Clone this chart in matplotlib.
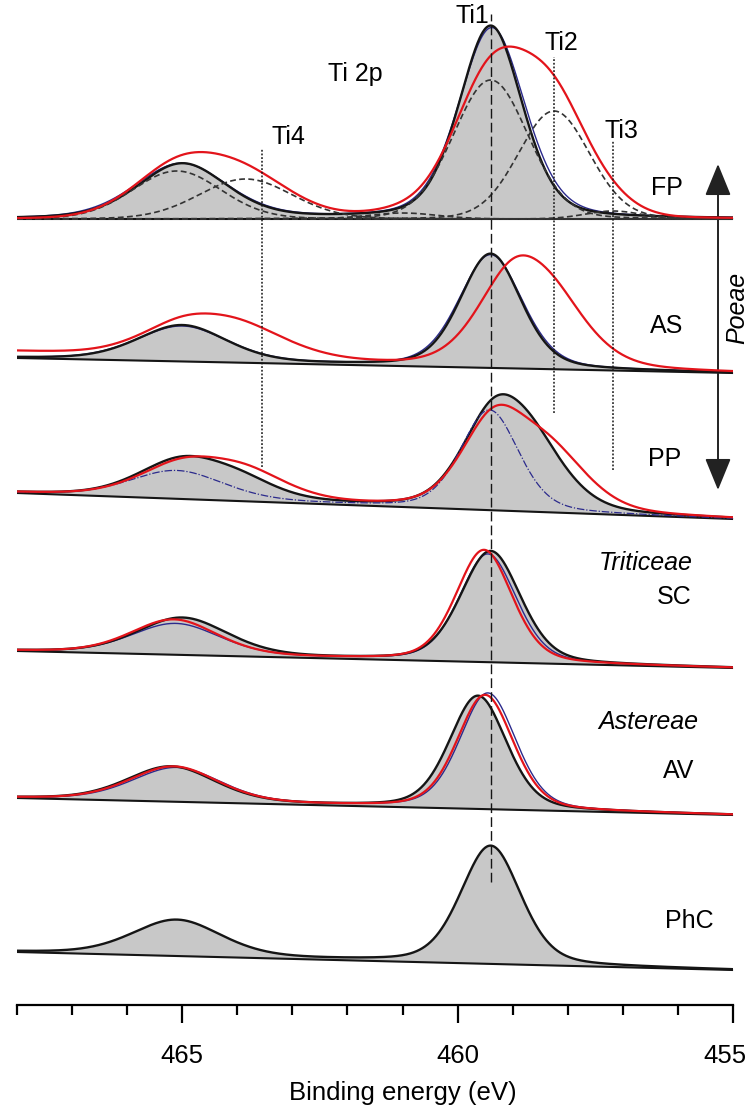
import numpy as np
import matplotlib
matplotlib.use("Agg")
import matplotlib.pyplot as plt
from matplotlib.transforms import ScaledTranslation

plt.rcParams["font.family"] = ["Liberation Sans", "DejaVu Sans"]

# ---------------- data ----------------
samples = ["FP", "AS", "PP", "SC", "AV", "PhC"]

# linear background drop across the scan (468 -> 455 eV), intensity units
background_drop = {"FP": 0, "AS": 15, "PP": 26, "SC": 17, "AV": 17, "PhC": 18}

# peak components: (binding energy eV, height, FWHM eV)
FP_black = [(459.40, 193, 1.35), (465.00, 55, 1.90)]
FP_blue = [(459.38, 191, 1.42), (465.02, 55, 1.98)]
FP_fit = [(459.40, 139, 1.60), (458.25, 108, 1.53), (457.18, 8, 1.20),
          (461.00, 6, 1.50), (465.10, 48, 1.90), (463.85, 40, 2.00)]

AS_black = [(459.40, 114, 1.30), (465.00, 36, 1.90)]
AS_blue = [(459.40, 113, 1.36), (465.00, 35, 1.95)]
AS_red = [(459.00, 85, 1.55), (458.20, 48, 1.60), (465.00, 28, 1.90), (463.90, 28, 2.10)]

PP_black = [(459.35, 86, 1.40), (458.60, 52, 1.50), (465.00, 38, 1.90), (463.90, 14, 1.60)]
PP_blue = [(459.42, 100, 1.24), (465.10, 28, 2.00)]
PP_red = [(459.35, 85, 1.40), (458.30, 55, 1.60), (465.00, 33, 1.90), (463.80, 24, 1.80)]

SC_black = [(459.40, 111, 1.28), (465.00, 37, 1.95)]
SC_blue = [(459.45, 108, 1.22), (465.12, 31, 1.90)]
SC_red = [(459.52, 112, 1.20), (465.15, 35, 1.85)]

AV_black = [(459.63, 113, 1.22), (465.20, 35, 1.90)]
AV_blue = [(459.45, 116, 1.20), (465.10, 34, 1.90)]
AV_red = [(459.50, 114, 1.20), (465.15, 35, 1.90)]

PhC_black = [(459.40, 118, 1.28), (465.10, 36, 1.90)]

# extra lift of the red trace at the high-BE end
red_left_lift = {"AS": 6}

# reference binding energies of the Ti species
species = ["Ti1", "Ti2", "Ti3", "Ti4"]
species_be = [459.40, 458.25, 457.18, 463.55]

xticks_major = [465, 460, 455]
xticks_minor = list(range(455, 469))

# ---------------- layout ----------------
W, H = 752, 1112
AX_BOTTOM_PX = 1005  # pixel row of the energy axis
stack_offset = {"FP": 786, "AS": 647, "PP": 512, "SC": 354, "AV": 207, "PhC": 53}

fig = plt.figure(figsize=(W / 100, H / 100), dpi=100)
ax = fig.add_axes([17 / W, (H - AX_BOTTOM_PX) / H, 716 / W, AX_BOTTOM_PX / H])
ax.set_xlim(468, 455)
ax.set_ylim(0, AX_BOTTOM_PX)


def py(pix_row):
    """data y for a pixel row"""
    return AX_BOTTOM_PX - pix_row


def figpos(x, y):
    return (x / W, 1 - y / H)


E = np.linspace(468, 455, 1301)


def pseudo_voigt(c, h, w, eta=0.3):
    s = w / 2.3548
    g = np.exp(-(E - c) ** 2 / (2 * s * s))
    lor = 1.0 / (1.0 + ((E - c) / (w / 2)) ** 2)
    return h * ((1 - eta) * g + eta * lor)


def envelope(comps, eta=0.3):
    out = np.zeros_like(E)
    for c, h, w in comps:
        out += pseudo_voigt(c, h, w, eta)
    return out


def baseline(name):
    frac = (468 - E) / 13.0
    return stack_offset[name] - background_drop[name] * frac


GREY = "#c8c8c8"
RED = "#e3141b"
BLUE = "#2b2a8c"
BLACK = "#151515"

curves = {
    "FP": (FP_black, FP_blue, FP_fit, None),
    "AS": (AS_black, AS_blue, AS_red, None),
    "PP": (PP_black, None, PP_red, PP_blue),
    "SC": (SC_black, SC_blue, SC_red, None),
    "AV": (AV_black, AV_blue, AV_red, None),
    "PhC": (PhC_black, None, None, None),
}

for name in samples:
    black, blue, red, blue_dd = curves[name]
    base = baseline(name)
    yb = base + envelope(black)
    ax.fill_between(E, base, yb, color=GREY, lw=0, zorder=1)
    ax.plot(E, base, color=BLACK, lw=1.5, zorder=2)
    if blue is not None:
        ax.plot(E, base + envelope(blue), color=BLUE, lw=1.0, zorder=3)
    ax.plot(E, yb, color=BLACK, lw=1.7, zorder=4)
    if blue_dd is not None:
        ax.plot(E, base + envelope(blue_dd), color=BLUE, lw=0.9,
                ls=(0, (6, 1.5, 1, 1.5)), zorder=5)
    if red is not None:
        eta = 0.1 if name == "FP" else 0.3
        lift = red_left_lift.get(name, 0) * np.clip((E - 461) / 7.0, 0, 1)
        ax.plot(E, base + lift + envelope(red, eta), color=RED, lw=1.6, zorder=6)
    if name == "FP":
        for comp in FP_fit:
            ax.plot(E, base + envelope([comp], 0.1), color="#333333", lw=1.2,
                    ls=(0, (3.5, 2)), zorder=5)

# reference lines of the Ti species
ax.plot([species_be[0]] * 2, [py(882), py(14)], color=BLACK, lw=1.0,
        ls=(0, (7, 3)), zorder=7)
line_extent = {"Ti2": (57, 413), "Ti3": (140, 470), "Ti4": (148, 467)}
for sp, be in zip(species[1:], species_be[1:]):
    top, bot = line_extent[sp]
    ax.plot([be, be], [py(bot), py(top)], color=BLACK, lw=1.1,
            ls=(0, (1.2, 1.2)), zorder=7)

# axis styling
for side in ["left", "right", "top"]:
    ax.spines[side].set_visible(False)
ax.spines["bottom"].set_linewidth(1.6)
ax.set_yticks([])
ax.set_xticks(xticks_major)
ax.set_xticks(xticks_minor, minor=True)
ax.tick_params(axis="x", which="major", length=13, width=1.6, labelsize=18.5, pad=15)
ax.tick_params(axis="x", which="minor", length=7, width=1.6)
ax.patch.set_alpha(0)

# keep the right-most tick label inside the canvas
fig.canvas.draw()
last_label = ax.get_xticklabels()[-1]
last_label.set_transform(last_label.get_transform()
                         + ScaledTranslation(-8 / 100, 0, fig.dpi_scale_trans))

fs = 18
fig.text(*figpos(403, 1093), "Binding energy (eV)", fontsize=18.5, ha="center", va="center")

# annotations
fig.text(*figpos(355, 74), "Ti 2p", fontsize=fs, ha="center", va="center")
label_pos = {"Ti1": (472, 16), "Ti2": (561, 43), "Ti3": (621, 131), "Ti4": (288, 137)}
for sp in species:
    fig.text(*figpos(*label_pos[sp]), sp, fontsize=fs, ha="center", va="center")

sample_label_pos = {"FP": (667, 188), "AS": (667, 326), "PP": (665, 459),
                    "SC": (674, 597), "AV": (679, 771), "PhC": (689, 921)}
for name in samples:
    fig.text(*figpos(*sample_label_pos[name]), name, fontsize=fs, ha="center", va="center")

fig.text(*figpos(646, 563), "Triticeae", fontsize=fs, style="italic", ha="center", va="center")
fig.text(*figpos(648, 722), "Astereae", fontsize=fs, style="italic", ha="center", va="center")
fig.text(*figpos(737, 308), "Poeae", fontsize=fs, style="italic", rotation=90,
         ha="center", va="center")

ax.annotate("", xy=figpos(718, 164), xytext=figpos(718, 490),
            xycoords="figure fraction", textcoords="figure fraction",
            arrowprops=dict(arrowstyle="<|-|>,head_length=1.1,head_width=0.45",
                            color="#222222", lw=1.4, shrinkA=0, shrinkB=0,
                            mutation_scale=18))

fig.savefig("out.png", dpi=100, facecolor="white")
